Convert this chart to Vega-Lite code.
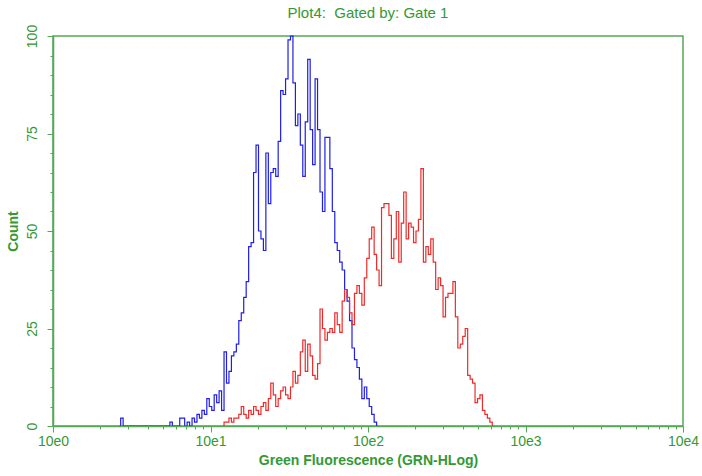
{
  "$schema": "https://vega.github.io/schema/vega-lite/v6.json",
  "width": 630,
  "height": 390,
  "autosize": {"type": "none"},
  "padding": {"left": 53, "top": 36, "right": 19, "bottom": 50},
  "background": "white",
  "title": {"text": "Plot4:\u00a0 Gated by: Gate 1", "font": "Liberation Sans", "fontSize": 15, "fontWeight": "normal", "color": "#339933", "offset": 3, "anchor": "middle"},
  "config": {"view": {"stroke": "#55a855", "strokeWidth": 1.5}},
  "data": {"values": [
    {"sample":"Control","channel":27,"count":0},{"sample":"Control","channel":28,"count":2},{"sample":"Control","channel":29,"count":0},
    {"sample":"Control","channel":47,"count":0},{"sample":"Control","channel":48,"count":1},{"sample":"Control","channel":49,"count":0},
    {"sample":"Control","channel":51,"count":0},{"sample":"Control","channel":52,"count":2},{"sample":"Control","channel":53,"count":2},
    {"sample":"Control","channel":54,"count":0},{"sample":"Control","channel":55,"count":1},{"sample":"Control","channel":56,"count":0},
    {"sample":"Control","channel":57,"count":2},{"sample":"Control","channel":58,"count":1},{"sample":"Control","channel":59,"count":3},
    {"sample":"Control","channel":60,"count":2},{"sample":"Control","channel":61,"count":4},{"sample":"Control","channel":62,"count":3},
    {"sample":"Control","channel":63,"count":7},{"sample":"Control","channel":64,"count":5},{"sample":"Control","channel":65,"count":4},
    {"sample":"Control","channel":66,"count":8},{"sample":"Control","channel":67,"count":6},{"sample":"Control","channel":68,"count":9},
    {"sample":"Control","channel":69,"count":4},{"sample":"Control","channel":70,"count":19},{"sample":"Control","channel":71,"count":11},
    {"sample":"Control","channel":72,"count":14},{"sample":"Control","channel":73,"count":18},{"sample":"Control","channel":74,"count":19},
    {"sample":"Control","channel":75,"count":21},{"sample":"Control","channel":76,"count":27},{"sample":"Control","channel":77,"count":29},
    {"sample":"Control","channel":78,"count":33},{"sample":"Control","channel":79,"count":37},{"sample":"Control","channel":80,"count":46},
    {"sample":"Control","channel":81,"count":47},{"sample":"Control","channel":82,"count":65},{"sample":"Control","channel":83,"count":72},
    {"sample":"Control","channel":84,"count":50},{"sample":"Control","channel":85,"count":48},{"sample":"Control","channel":86,"count":45},
    {"sample":"Control","channel":87,"count":70},{"sample":"Control","channel":88,"count":57},{"sample":"Control","channel":89,"count":65},
    {"sample":"Control","channel":90,"count":66},{"sample":"Control","channel":91,"count":64},{"sample":"Control","channel":92,"count":73},
    {"sample":"Control","channel":93,"count":86},{"sample":"Control","channel":94,"count":85},{"sample":"Control","channel":95,"count":89},
    {"sample":"Control","channel":96,"count":99},{"sample":"Control","channel":97,"count":100},{"sample":"Control","channel":98,"count":88},
    {"sample":"Control","channel":99,"count":77},{"sample":"Control","channel":100,"count":80},{"sample":"Control","channel":101,"count":72},
    {"sample":"Control","channel":102,"count":64},{"sample":"Control","channel":103,"count":78},{"sample":"Control","channel":104,"count":94},
    {"sample":"Control","channel":105,"count":76},{"sample":"Control","channel":106,"count":67},{"sample":"Control","channel":107,"count":89},
    {"sample":"Control","channel":108,"count":76},{"sample":"Control","channel":109,"count":60},{"sample":"Control","channel":110,"count":55},
    {"sample":"Control","channel":111,"count":74},{"sample":"Control","channel":112,"count":74},{"sample":"Control","channel":113,"count":66},
    {"sample":"Control","channel":114,"count":55},{"sample":"Control","channel":115,"count":47},{"sample":"Control","channel":116,"count":45},
    {"sample":"Control","channel":117,"count":42},{"sample":"Control","channel":118,"count":40},{"sample":"Control","channel":119,"count":35},
    {"sample":"Control","channel":120,"count":32},{"sample":"Control","channel":121,"count":27},{"sample":"Control","channel":122,"count":20},
    {"sample":"Control","channel":123,"count":17},{"sample":"Control","channel":124,"count":15},{"sample":"Control","channel":125,"count":12},
    {"sample":"Control","channel":126,"count":7},{"sample":"Control","channel":127,"count":10},{"sample":"Control","channel":128,"count":7},
    {"sample":"Control","channel":129,"count":5},{"sample":"Control","channel":130,"count":3},{"sample":"Control","channel":131,"count":1},
    {"sample":"Control","channel":132,"count":0},
    {"sample":"Stained","channel":69,"count":0},{"sample":"Stained","channel":70,"count":1},{"sample":"Stained","channel":71,"count":1},
    {"sample":"Stained","channel":72,"count":2},{"sample":"Stained","channel":73,"count":1},{"sample":"Stained","channel":74,"count":2},
    {"sample":"Stained","channel":75,"count":2},{"sample":"Stained","channel":76,"count":3},{"sample":"Stained","channel":77,"count":5},
    {"sample":"Stained","channel":78,"count":3},{"sample":"Stained","channel":79,"count":2},{"sample":"Stained","channel":80,"count":4},
    {"sample":"Stained","channel":81,"count":3},{"sample":"Stained","channel":82,"count":5},{"sample":"Stained","channel":83,"count":4},
    {"sample":"Stained","channel":84,"count":3},{"sample":"Stained","channel":85,"count":5},{"sample":"Stained","channel":86,"count":6},
    {"sample":"Stained","channel":87,"count":4},{"sample":"Stained","channel":88,"count":7},{"sample":"Stained","channel":89,"count":11},
    {"sample":"Stained","channel":90,"count":8},{"sample":"Stained","channel":91,"count":5},{"sample":"Stained","channel":92,"count":7},
    {"sample":"Stained","channel":93,"count":9},{"sample":"Stained","channel":94,"count":10},{"sample":"Stained","channel":95,"count":8},
    {"sample":"Stained","channel":96,"count":7},{"sample":"Stained","channel":97,"count":10},{"sample":"Stained","channel":98,"count":14},
    {"sample":"Stained","channel":99,"count":11},{"sample":"Stained","channel":100,"count":13},{"sample":"Stained","channel":101,"count":19},
    {"sample":"Stained","channel":102,"count":22},{"sample":"Stained","channel":103,"count":14},{"sample":"Stained","channel":104,"count":21},
    {"sample":"Stained","channel":105,"count":18},{"sample":"Stained","channel":106,"count":13},{"sample":"Stained","channel":107,"count":12},
    {"sample":"Stained","channel":108,"count":16},{"sample":"Stained","channel":109,"count":30},{"sample":"Stained","channel":110,"count":25},
    {"sample":"Stained","channel":111,"count":22},{"sample":"Stained","channel":112,"count":24},{"sample":"Stained","channel":113,"count":25},
    {"sample":"Stained","channel":114,"count":24},{"sample":"Stained","channel":115,"count":29},{"sample":"Stained","channel":116,"count":26},
    {"sample":"Stained","channel":117,"count":24},{"sample":"Stained","channel":118,"count":32},{"sample":"Stained","channel":119,"count":35},
    {"sample":"Stained","channel":120,"count":33},{"sample":"Stained","channel":121,"count":29},{"sample":"Stained","channel":122,"count":26},
    {"sample":"Stained","channel":123,"count":34},{"sample":"Stained","channel":124,"count":36},{"sample":"Stained","channel":125,"count":34},
    {"sample":"Stained","channel":126,"count":31},{"sample":"Stained","channel":127,"count":38},{"sample":"Stained","channel":128,"count":43},
    {"sample":"Stained","channel":129,"count":48},{"sample":"Stained","channel":130,"count":51},{"sample":"Stained","channel":131,"count":44},
    {"sample":"Stained","channel":132,"count":40},{"sample":"Stained","channel":133,"count":36},{"sample":"Stained","channel":134,"count":56},
    {"sample":"Stained","channel":135,"count":57},{"sample":"Stained","channel":136,"count":57},{"sample":"Stained","channel":137,"count":54},
    {"sample":"Stained","channel":138,"count":43},{"sample":"Stained","channel":139,"count":48},{"sample":"Stained","channel":140,"count":55},
    {"sample":"Stained","channel":141,"count":42},{"sample":"Stained","channel":142,"count":52},{"sample":"Stained","channel":143,"count":60},
    {"sample":"Stained","channel":144,"count":48},{"sample":"Stained","channel":145,"count":52},{"sample":"Stained","channel":146,"count":51},
    {"sample":"Stained","channel":147,"count":47},{"sample":"Stained","channel":148,"count":50},{"sample":"Stained","channel":149,"count":53},
    {"sample":"Stained","channel":150,"count":66},{"sample":"Stained","channel":151,"count":42},{"sample":"Stained","channel":152,"count":46},
    {"sample":"Stained","channel":153,"count":44},{"sample":"Stained","channel":154,"count":48},{"sample":"Stained","channel":155,"count":42},
    {"sample":"Stained","channel":156,"count":35},{"sample":"Stained","channel":157,"count":38},{"sample":"Stained","channel":158,"count":36},
    {"sample":"Stained","channel":159,"count":28},{"sample":"Stained","channel":160,"count":33},{"sample":"Stained","channel":161,"count":34},
    {"sample":"Stained","channel":162,"count":34},{"sample":"Stained","channel":163,"count":37},{"sample":"Stained","channel":164,"count":28},
    {"sample":"Stained","channel":165,"count":20},{"sample":"Stained","channel":166,"count":21},{"sample":"Stained","channel":167,"count":23},
    {"sample":"Stained","channel":168,"count":25},{"sample":"Stained","channel":169,"count":13},{"sample":"Stained","channel":170,"count":12},
    {"sample":"Stained","channel":171,"count":11},{"sample":"Stained","channel":172,"count":6},{"sample":"Stained","channel":173,"count":7},
    {"sample":"Stained","channel":174,"count":8},{"sample":"Stained","channel":175,"count":4},{"sample":"Stained","channel":176,"count":3},
    {"sample":"Stained","channel":177,"count":2},{"sample":"Stained","channel":178,"count":1},{"sample":"Stained","channel":179,"count":0}
  ]},
  "mark": {"type": "line", "interpolate": "step", "strokeWidth": 1.2},
  "encoding": {
    "x": {
      "field": "channel", "type": "quantitative",
      "scale": {"domain": [0, 256], "nice": false, "zero": false},
      "axis": {
        "title": "Green Fluorescence (GRN-HLog)",
        "values": [0, 19.27, 30.54, 38.53, 44.73, 49.8, 54.09, 57.8, 61.07, 64, 83.27, 94.54, 102.53, 108.73, 113.8, 118.09, 121.8, 125.07, 128, 147.27, 158.54, 166.53, 172.73, 177.8, 182.09, 185.8, 189.07, 192, 211.27, 222.54, 230.53, 236.73, 241.8, 246.09, 249.8, 253.07, 256],
        "labelExpr": "datum.value % 64 == 0 ? '10e' + (datum.value / 64) : ''",
        "tickSize": {"condition": {"test": "datum.value % 64 == 0", "value": 6}, "value": 3},
        "grid": false, "zindex": 1,
        "domainColor": "#55a855", "domainWidth": 1.5, "tickColor": "#55a855", "tickWidth": 1,
        "labelColor": "#339933", "labelFont": "Liberation Sans", "labelFontSize": 14,
        "labelOverlap": false, "labelFlush": false, "labelPadding": 2,
        "titleColor": "#339933", "titleFont": "Liberation Sans", "titleFontSize": 14, "titleFontWeight": "bold", "titlePadding": 5
      }
    },
    "y": {
      "field": "count", "type": "quantitative",
      "scale": {"domain": [0, 100], "nice": false},
      "axis": {
        "title": "Count",
        "values": [0, 5, 10, 15, 20, 25, 30, 35, 40, 45, 50, 55, 60, 65, 70, 75, 80, 85, 90, 95, 100],
        "labelExpr": "datum.value % 25 == 0 ? datum.label : ''",
        "tickSize": {"condition": {"test": "datum.value % 25 == 0", "value": 6}, "value": 3},
        "grid": false, "zindex": 1,
        "domainColor": "#55a855", "domainWidth": 1.5, "tickColor": "#55a855", "tickWidth": 1,
        "labelColor": "#339933", "labelFont": "Liberation Sans", "labelFontSize": 14,
        "labelAngle": -90, "labelAlign": "center", "labelBaseline": "bottom", "labelPadding": 8,
        "labelOverlap": false, "labelFlush": false,
        "titleColor": "#339933", "titleFont": "Liberation Sans", "titleFontSize": 14, "titleFontWeight": "bold", "titlePadding": 5
      }
    },
    "color": {
      "field": "sample", "type": "nominal",
      "scale": {"domain": ["Control", "Stained"], "range": ["#1f1fe6", "#ee2b2b"]},
      "legend": null
    }
  }
}
